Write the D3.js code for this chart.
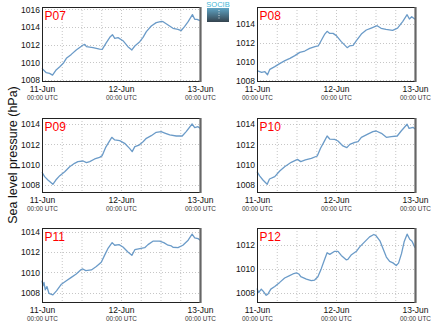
<!DOCTYPE html>
<html><head><meta charset="utf-8">
<script src="https://cdn.jsdelivr.net/npm/d3@7"></script>
<style>body{margin:0;background:#fff}svg{display:block}text{font-family:"Liberation Sans",Arial,sans-serif}</style>
</head><body>
<svg id="c" width="435" height="327"></svg>
<script>
// hours since 11-Jun 00:00 UTC, sea level pressure (hPa)
const p07Hours = [0,1.3,2.3,3.2,4.2,5.4,6.6,7.4,8.9,10.4,12.5,13,13.5,15.5,17.5,18.3,19.5,20.6,21.4,22.1,23.1,24.6,26.1,27.3,28.2,29.7,30.7,31.7,33.2,34.7,36.3,36.8,38.3,39.8,41.3,42.3,43.3,44.4,45.7,46.4,47.1,48];
const p07Values = [1009.32,1008.83,1008.75,1008.55,1009.1,1009.5,1009.96,1010.45,1010.9,1011.4,1011.96,1012.04,1011.77,1011.66,1011.5,1011.47,1012.2,1012.83,1013.13,1012.72,1012.8,1012.45,1011.77,1011.4,1011.85,1012.34,1012.83,1013.47,1014.11,1014.49,1014.64,1014.6,1014.23,1013.85,1013.74,1013.6,1014.04,1014.6,1015.4,1014.87,1014.87,1014.72];
const p08Hours = [0,1.4,2.4,3.2,3.9,5.4,7,8.5,10,11.5,13,14.5,16,17.6,18.6,19.6,20.6,21.3,22.1,23.1,24.1,25.6,27.4,28.1,29.2,30.2,31.7,33.2,34.7,36.5,37.7,39.2,41.2,42.7,44.3,45.6,46.3,47,48];
const p08Values = [1009.03,1008.85,1008.92,1008.6,1009.17,1009.46,1009.81,1010.1,1010.34,1010.63,1010.98,1011.12,1011.4,1011.59,1011.66,1012.3,1012.93,1013.22,1013.0,1013.0,1012.76,1012.12,1011.48,1011.66,1011.73,1012.22,1012.93,1013.36,1013.57,1013.82,1013.54,1013.43,1013.33,1013.57,1014.28,1014.99,1014.53,1014.78,1014.5];
const p09Hours = [0,0.8,1.8,3.3,4.2,5.4,6.9,8.4,9.9,10.9,12.5,13.5,14.5,16,17.5,18.3,19.3,20.4,21.2,22.1,23.6,25.1,26.6,27.4,28.2,29.5,30.7,31.7,33.2,34.7,36.2,37.3,38.8,40.8,42.6,43.8,45.6,46.4,47.4,48];
const p09Values = [1009.25,1008.82,1008.49,1008.07,1008.49,1008.92,1009.31,1009.8,1010.13,1010.3,1010.36,1010.2,1010.3,1010.56,1010.72,1010.89,1011.67,1012.26,1012.69,1012.43,1012.36,1012.1,1011.6,1011.28,1011.77,1011.93,1012.26,1012.59,1012.85,1013.18,1013.25,1013.11,1012.92,1012.82,1012.82,1013.25,1014.0,1013.64,1013.74,1013.57];
const p10Hours = [0,0.8,1.8,3.1,3.8,5.4,6.9,8.4,10.4,12.3,13.3,14.7,16.5,18.3,19.3,20.4,21.3,22.1,23.6,24.6,26.1,27.3,28.2,29.7,30.7,31.7,33.5,35.2,36.2,37.8,39.3,40.8,42.6,43.8,45.6,46.2,47.4,48];
const p10Values = [1009.31,1008.89,1008.49,1008.07,1008.59,1008.82,1009.38,1009.8,1010.23,1010.52,1010.3,1010.46,1010.62,1010.85,1011.61,1012.26,1012.82,1012.52,1012.49,1012.33,1011.84,1011.67,1012.0,1012.2,1012.26,1012.69,1012.98,1013.25,1013.31,1013.08,1012.69,1012.75,1012.82,1013.31,1013.97,1013.57,1013.67,1013.51];
const p11Hours = [0,0.3,0.6,1.0,1.5,2.1,3.3,4.4,5.9,7.4,8.9,10.4,11.9,12.4,13.3,15,16.5,18,19,20,21.3,22.1,23.4,24.6,26.1,27.3,28.2,29.7,31.2,32.2,33.7,35.7,37,38.3,39.3,39.8,41.3,42.8,44.4,45.6,46.4,47.4,48];
const p11Values = [1009.17,1008.67,1009.0,1008.27,1008.6,1007.93,1007.77,1008.17,1008.83,1009.17,1009.5,1009.83,1010.27,1010.33,1010.17,1010.23,1010.57,1011.0,1011.67,1012.33,1012.93,1012.67,1012.73,1012.5,1012.0,1011.67,1012.23,1012.33,1012.43,1012.73,1013.07,1013.07,1012.93,1012.67,1012.6,1012.47,1012.43,1012.67,1013.17,1013.77,1013.4,1013.33,1013.17];
const p12Hours = [0,0.5,1.3,1.8,2.8,3.3,4.2,5.4,6.9,8.4,9.9,10.9,12,12.7,13.3,15,16.5,17.5,18.5,19.5,20.5,21.3,22.1,23.6,24.6,25.6,27.1,27.6,28.7,30.2,31.2,32.7,34.2,35.5,36.2,37.4,38.3,39.3,40.3,41.3,42.3,43,43.9,44.7,45.6,46.4,47.1,48];
const p12Values = [1008.34,1008.0,1008.29,1008.14,1007.77,1007.86,1008.29,1008.51,1008.86,1009.23,1009.43,1009.57,1009.66,1009.57,1009.34,1009.14,1009.0,1009.06,1009.34,1010.0,1010.77,1011.37,1011.23,1011.49,1011.49,1011.14,1010.77,1010.8,1011.2,1011.49,1011.86,1012.29,1012.71,1012.91,1012.8,1012.34,1011.71,1011.0,1010.63,1010.51,1010.29,1010.49,1011.29,1012.29,1012.94,1012.51,1012.34,1011.8];

const panelNames = ["P07","P08","P09","P10","P11","P12"];
const panelHours = [p07Hours,p08Hours,p09Hours,p10Hours,p11Hours,p12Hours];
const panelValues = [p07Values,p08Values,p09Values,p10Values,p11Values,p12Values];
const panelYDomain = [[1007.89,1016.26],[1007.93,1015.81],[1007.31,1014.59],[1007.31,1014.59],[1007.07,1014.37],[1007.2,1013.46]];
const panelYTicks = [[1008,1010,1012,1014,1016],[1008,1010,1012,1014],[1008,1010,1012,1014],[1008,1010,1012,1014],[1008,1010,1012,1014],[1008,1010,1012]];
const dayTickLabels = ["11-Jun","12-Jun","13-Jun"];
const timeTickLabel = "00:00 UTC";
const yAxisTitle = "Sea level pressure (hPa)";

const t0 = Date.UTC(2014,5,11,0,0);
const toDate = h => new Date(t0 + h*3600e3);

const svg = d3.select("#c");
const colX = [42, 257], rowY = [7, 118, 228], W = 158, H = 74;
const lineColor = "#6b9bc8";

panelNames.forEach((name,i)=>{
  const ox = colX[i%2], oy = rowY[Math.floor(i/2)];
  const g = svg.append("g").attr("transform",`translate(${ox},${oy})`);
  const x = d3.scaleUtc().domain([toDate(0), toDate(48)]).range([0,W]);
  const y = d3.scaleLinear().domain(panelYDomain[i]).range([H,0]);
  // grid
  const gridT = d3.range(6,48,6).map(toDate);
  g.append("g").selectAll("line").data(gridT).join("line")
    .attr("x1",d=>x(d)+0.5).attr("x2",d=>x(d)+0.5).attr("y1",0).attr("y2",H)
    .attr("stroke","#b8b8b8").attr("stroke-width",0.8).attr("stroke-dasharray","1,2");
  g.append("g").selectAll("line").data(panelYTicks[i]).join("line")
    .attr("x1",0).attr("x2",W).attr("y1",d=>Math.round(y(d))+0.5).attr("y2",d=>Math.round(y(d))+0.5)
    .attr("stroke","#b8b8b8").attr("stroke-width",0.8).attr("stroke-dasharray","1,2");
  // line
  const data = panelHours[i].map((h,k)=>[toDate(h), panelValues[i][k]]);
  g.append("path").datum(data)
    .attr("fill","none").attr("stroke",lineColor).attr("stroke-width",1.3).attr("stroke-linejoin","round")
    .attr("d", d3.line().x(d=>x(d[0])).y(d=>y(d[1])));
  // frame
  g.append("rect").attr("x",0.5).attr("y",0.5).attr("width",W).attr("height",H)
    .attr("fill","none").attr("stroke","#222").attr("stroke-width",1);
  g.append("line").attr("x1",W+0.5).attr("x2",W+0.5).attr("y1",0).attr("y2",H+1)
    .attr("stroke","#666").attr("stroke-width",2.2);
  // y axis
  const ya = g.append("g").call(d3.axisLeft(y).tickValues(panelYTicks[i]).tickSize(0).tickPadding(2).tickFormat(d3.format("d")));
  ya.select(".domain").remove();
  ya.selectAll("text").attr("font-size","8.5px").attr("fill","#111").attr("font-family","Liberation Sans, Arial, sans-serif");
  // x axis
  const dayT = [0,24,48].map(toDate);
  const xa = g.append("g").attr("transform",`translate(0,${H})`)
    .call(d3.axisBottom(x).tickValues(dayT).tickSize(0).tickPadding(0).tickFormat((d,k)=>dayTickLabels[k]));
  xa.select(".domain").remove();
  xa.selectAll("text").attr("font-size","8.5px").attr("fill","#111").attr("dy",null).attr("y",10.8)
    .attr("font-family","Liberation Sans, Arial, sans-serif");
  xa.selectAll(".tick").append("text").attr("y",19).attr("text-anchor","middle")
    .attr("font-size","6.4px").attr("fill","#333").attr("font-family","Liberation Sans, Arial, sans-serif")
    .text(timeTickLabel);
  // panel name
  g.append("text").attr("x",2.5).attr("y",12.5).attr("fill","#ff0000").attr("font-size","12px").text(name);
});

// y axis title
svg.append("text").attr("transform","translate(16.5,155) rotate(-90)").attr("text-anchor","middle")
  .attr("font-size","12.5px").attr("fill","#111").text(yAxisTitle);

// logo
const defs = svg.append("defs");
const lg = defs.append("linearGradient").attr("id","lg").attr("x1",0).attr("y1",0).attr("x2",0).attr("y2",1);
lg.append("stop").attr("offset","0%").attr("stop-color","#5fa4c4");
lg.append("stop").attr("offset","100%").attr("stop-color","#34434e");
const logo = svg.append("g").attr("transform","translate(207,0)");
logo.append("rect").attr("x",0).attr("y",8).attr("width",22).attr("height",14).attr("fill","url(#lg)");
logo.append("line").attr("x1",12).attr("x2",12).attr("y1",10).attr("y2",20).attr("stroke","#fff").attr("stroke-width",0.8).attr("stroke-dasharray","1,1.5");
logo.append("text").attr("x",11).attr("y",7).attr("text-anchor","middle").attr("font-size","7.5px").attr("fill","#3fb6d6").text("SOCIB");
</script>
</body></html>
